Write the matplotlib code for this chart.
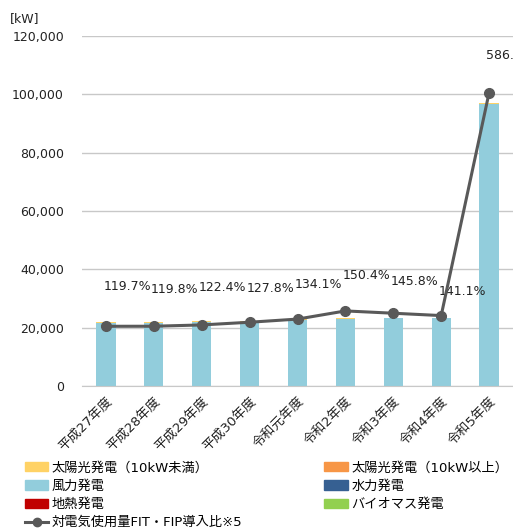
import numpy as np
import matplotlib
matplotlib.use("Agg")
import matplotlib.pyplot as plt
from matplotlib.lines import Line2D
from matplotlib.patches import Patch
from matplotlib.ticker import FuncFormatter

plt.rcParams['font.family'] = ['DejaVu Sans', 'Noto Sans CJK JP']

# データ (kW)
nendo = ['平成27年度', '平成28年度', '平成29年度', '平成30年度', '令和元年度',
         '令和2年度', '令和3年度', '令和4年度', '令和5年度']
solar_small = [300, 300, 300, 300, 300, 300, 300, 300, 400]
solar_large = [0, 0, 0, 0, 0, 0, 0, 0, 0]
wind = [21700, 21700, 22000, 22150, 22600, 23000, 23200, 23200, 96800]
hydro = [0, 0, 0, 0, 0, 0, 0, 0, 0]
geothermal = [0, 0, 0, 0, 0, 0, 0, 0, 0]
biomass = [0, 0, 0, 0, 0, 0, 0, 0, 0]
ratio = [119.7, 119.8, 122.4, 127.8, 134.1, 150.4, 145.8, 141.1, 586.3]

series = [
    ('太陽光発電（10kW未満）', solar_small, '#FFD265'),
    ('太陽光発電（10kW以上）', solar_large, '#F79646'),
    ('風力発電', wind, '#92CDDC'),
    ('水力発電', hydro, '#366092'),
    ('地熱発電', geothermal, '#C00000'),
    ('バイオマス発電', biomass, '#92D050'),
]

fig = plt.figure(figsize=(5.13, 5.29), dpi=100)
ax = fig.add_axes([0.16, 0.27, 0.84, 0.662])
x = np.arange(len(nendo))

# 積み上げ棒 (下から風力→...→太陽光)
stack_order = [2, 3, 4, 5, 1, 0]
bottom = np.zeros(len(nendo))
for i in stack_order:
    name, vals, col = series[i]
    ax.bar(x, vals, 0.4, bottom=bottom, color=col, zorder=2)
    bottom += np.array(vals)

ax.set_ylim(0, 120000)
ax.set_xlim(-0.5, len(nendo) - 0.5)
ax.set_yticks(np.arange(0, 120001, 20000))
ax.yaxis.set_major_formatter(FuncFormatter(lambda v, p: f'{int(v):,}'))
ax.grid(axis='y', color='#C8C8C8', linewidth=1, zorder=0)
for s in ['top', 'right', 'left']:
    ax.spines[s].set_visible(False)
ax.spines['bottom'].set_color('#C8C8C8')
ax.tick_params(axis='both', length=0, labelsize=9, colors='#222222')
ax.tick_params(axis='y', pad=13)
ax.set_xticks(x)
ax.set_xticklabels(nendo, rotation=45, ha='right', va='top', rotation_mode='anchor', fontsize=9.5)
ax.tick_params(axis='x', pad=6)

# 対電気使用量比 (第2軸, 非表示)
ax2 = ax.twinx()
ax2.set_ylim(0, 700)
ax2.axis('off')
ax2.plot(x, ratio, color='#595959', linewidth=2.2, marker='o', markersize=7, zorder=5)
dy = [40, 37, 37, 34, 35, 35, 32, 24, 37]
for xi, r, d in zip(x, ratio, dy):
    ax2.annotate(f'{r:.1f}%', (xi, r), xytext=(21, d), textcoords='offset pixels',
                 ha='center', va='center', fontsize=9, color='#222222',
                 annotation_clip=False)

fig.text(0.02, 0.965, '[kW]', fontsize=9, va='center', color='#222222')

handles = [Patch(color=c) for _, _, c in series]
labels = [n for n, _, _ in series]
line_h = Line2D([0], [0], color='#595959', linewidth=2.2, marker='o', markersize=6)
order_h = [handles[0], handles[2], handles[4], line_h, handles[1], handles[3], handles[5]]
order_l = [labels[0], labels[2], labels[4], '対電気使用量FIT・FIP導入比※5', labels[1], labels[3], labels[5]]
fig.legend(order_h, order_l, ncol=2, loc='lower left', bbox_to_anchor=(0.03, -0.018),
           frameon=False, fontsize=9.5, handlelength=1.8, handleheight=0.7,
           handletextpad=0.25, labelspacing=0.4, columnspacing=6.2, borderpad=0.2)

fig.savefig('out.png', dpi=100)
